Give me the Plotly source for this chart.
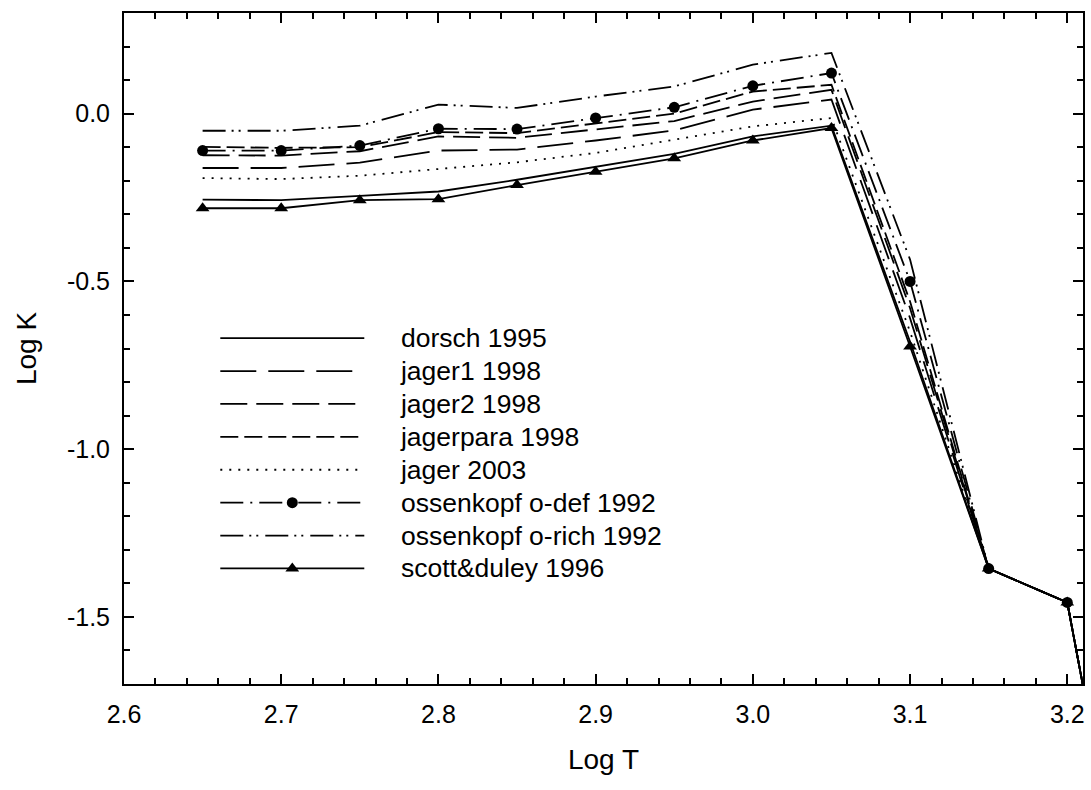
import plotly.graph_objects as go

log_t = [2.65, 2.70, 2.75, 2.80, 2.85, 2.90, 2.95, 3.00, 3.05, 3.10, 3.15, 3.20, 3.25]

dorsch_1995 = [-0.256, -0.258, -0.245, -0.232, -0.197, -0.158, -0.120, -0.068, -0.036, -0.680, -1.356, -1.457, -2.70]
jager1_1998 = [-0.162, -0.162, -0.146, -0.110, -0.107, -0.080, -0.050, 0.012, 0.042, -0.610, -1.356, -1.457, -2.70]
jager2_1998 = [-0.124, -0.125, -0.112, -0.068, -0.072, -0.048, -0.022, 0.036, 0.071, -0.580, -1.356, -1.457, -2.70]
jagerpara_1998 = [-0.099, -0.102, -0.100, -0.055, -0.058, -0.030, 0.000, 0.066, 0.086, -0.560, -1.356, -1.457, -2.70]
jager_2003 = [-0.192, -0.195, -0.185, -0.165, -0.145, -0.117, -0.078, -0.038, -0.013, -0.650, -1.356, -1.457, -2.70]
ossenkopf_odef_1992 = [-0.110, -0.110, -0.095, -0.045, -0.046, -0.013, 0.019, 0.083, 0.121, -0.500, -1.356, -1.457, -2.70]
ossenkopf_orich_1992 = [-0.051, -0.051, -0.036, 0.027, 0.017, 0.051, 0.081, 0.146, 0.181, -0.435, -1.356, -1.457, -2.70]
scott_duley_1996 = [-0.282, -0.282, -0.258, -0.255, -0.213, -0.173, -0.133, -0.080, -0.043, -0.694, -1.356, -1.457, -2.70]

series_names = ["dorsch 1995", "jager1 1998", "jager2 1998", "jagerpara 1998", "jager 2003",
                "ossenkopf o-def 1992", "ossenkopf o-rich 1992", "scott&duley 1996"]
series_values = [dorsch_1995, jager1_1998, jager2_1998, jagerpara_1998, jager_2003,
                 ossenkopf_odef_1992, ossenkopf_orich_1992, scott_duley_1996]

y_tick_vals = [0.0, -0.5, -1.0, -1.5]
y_tick_text = ["0.0", "-0.5", "-1.0", "-1.5"]
x_tick_vals = [2.6, 2.7, 2.8, 2.9, 3.0, 3.1, 3.2]
x_tick_text = ["2.6", "2.7", "2.8", "2.9", "3.0", "3.1", "3.2"]

styles = [
    dict(dash="solid", marker=None),
    dict(dash="36px,12px", marker=None),
    dict(dash="27px,9px", marker=None),
    dict(dash="18px,6px", marker=None),
    dict(dash="2px,7px", marker=None),
    dict(dash="23px,7px,2px,7px", marker="circle"),
    dict(dash="23px,6px,2px,5px,2px,7px", marker=None),
    dict(dash="solid", marker="triangle-up"),
]

FONT = "Liberation Sans, Arial"

fig = go.Figure()
pad = "\u00a0" * 4 + "\u200a"
for i, (name, vals, st) in enumerate(zip(series_names, series_values, styles)):
    mode = "lines+markers" if st["marker"] else "lines"
    label = '<span style="font-size:26.5px">' + pad + name.replace("&", "&amp;") + "</span>"
    tr = dict(x=log_t, y=vals, name=label, mode=mode,
              line=dict(color="black", width=1.8, dash=st["dash"]),
              legendgroup="g%d" % i)
    if st["marker"]:
        tr["marker"] = dict(symbol=st["marker"], size=11 if st["marker"] == "circle" else 12,
                            color="black")
    fig.add_trace(go.Scatter(**tr))

axis_common = dict(
    showline=True, linecolor="black", linewidth=2, mirror="allticks",
    ticks="inside", ticklen=10, tickwidth=1.5, tickcolor="black",
    showgrid=False, zeroline=False,
    tickfont=dict(family=FONT, size=25, color="black"),
)

fig.update_layout(
    width=1091, height=790,
    margin=dict(l=124, r=6, t=13, b=106),
    paper_bgcolor="white", plot_bgcolor="white",
    showlegend=True,
    legend=dict(x=0.0952, y=0.5474, xanchor="left", yanchor="top",
                bgcolor="rgba(0,0,0,0)", itemwidth=144, tracegroupgap=0,
                traceorder="grouped",
                font=dict(family=FONT, size=23, color="black")),
    xaxis=dict(range=[2.6, 3.21], tickvals=x_tick_vals, ticktext=x_tick_text,
               minor=dict(dtick=0.02, ticks="inside", ticklen=6, tickwidth=1.5, tickcolor="black", showgrid=False),
               title=dict(text="Log T", font=dict(family=FONT, size=28, color="black"), standoff=22),
               ticklabelstandoff=7, **axis_common),
    yaxis=dict(range=[-1.7, 0.3], tickvals=y_tick_vals, ticktext=y_tick_text,
               minor=dict(dtick=0.1, tick0=0, ticks="inside", ticklen=6, tickwidth=1.5, tickcolor="black", showgrid=False),
               title=dict(text="Log K", font=dict(family=FONT, size=28, color="black"), standoff=22),
               ticklabelstandoff=7, **axis_common),
)

fig.write_html("out.html")
